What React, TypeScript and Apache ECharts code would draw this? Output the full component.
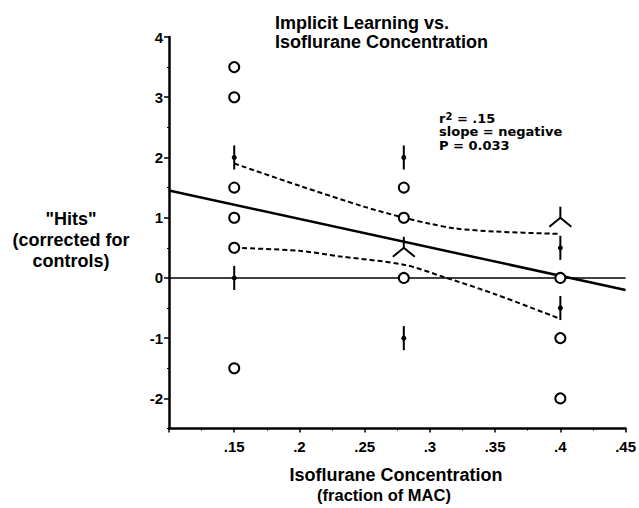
import React, { useEffect, useRef } from "react";
import * as echarts from "echarts";

// ---- data ----
const circlePoints: number[][] = [
  [0.15, 3.5], [0.15, 3], [0.15, 1.5], [0.15, 1], [0.15, 0.5], [0.15, -1.5],
  [0.28, 1.5], [0.28, 1], [0.28, 0],
  [0.4, 0], [0.4, -1], [0.4, -2],
];
const barPoints: number[][] = [
  [0.15, 2], [0.15, 0],
  [0.28, 2], [0.28, -1],
  [0.4, 0.5], [0.4, -0.5],
];
const lambdaPoints: number[][] = [
  [0.28, 0.5], [0.4, 1],
];
const regressionLine: number[][] = [[0.1, 1.45], [0.45, -0.2]];
const zeroLine: number[][] = [[0.1, 0], [0.45, 0]];
const upperBand: number[][] = [
  [0.15, 1.9], [0.2, 1.53], [0.25, 1.18], [0.28, 1.0], [0.3, 0.9],
  [0.32, 0.82], [0.35, 0.77], [0.4, 0.73],
];
const lowerBand: number[][] = [
  [0.15, 0.5], [0.2, 0.45], [0.23, 0.36], [0.28, 0.22], [0.31, 0.02],
  [0.35, -0.27], [0.4, -0.68],
];
const yTickLabels = [-2, -1, 0, 1, 2, 3, 4];
const yMinorTicks = [-2.5, -1.5, -0.5, 0.5, 1.5, 2.5, 3.5];
const titleLines = ["Implicit Learning vs.", "Isoflurane Concentration"];
const yTitleLines = ['"Hits"', "(corrected for", "controls)"];
const xTitleLines = ["Isoflurane Concentration", "(fraction of MAC)"];
const statLines = ["slope = negative", "P = 0.033"];

const FONT = "'Liberation Sans', Arial, Helvetica, sans-serif";
const WIDE = "'DejaVu Sans', Verdana, sans-serif";

function txt(text: string, x: number, y: number, size: number, align = "left", family = FONT) {
  return {
    type: "text",
    x,
    y,
    silent: true,
    style: {
      text,
      fill: "#000",
      fontSize: size,
      fontWeight: "bold",
      fontFamily: family,
      align,
      verticalAlign: "middle",
    },
  };
}

export default function App() {
  const ref = useRef<HTMLDivElement>(null);
  useEffect(() => {
    document.body.style.margin = "0";
    const chart = echarts.init(ref.current!, null, { renderer: "svg" });
    const fmtX = (v: number) => {
      const r = Math.round(v * 1000) / 1000;
      if (r <= 0.1) return "";
      return String(r).replace(/^0/, "");
    };
    const option: any = {
      animation: false,
      backgroundColor: "#fff",
      grid: { left: 169, right: 12, top: 37, bottom: 79.5 },
      xAxis: {
        type: "value",
        min: 0.1,
        max: 0.45,
        interval: 0.05,
        axisLine: { show: true, onZero: false, lineStyle: { color: "#000", width: 2.5 } },
        axisTick: { show: true, length: 4, lineStyle: { color: "#000", width: 1.5 } },
        minorTick: { show: true, splitNumber: 2, length: 2, lineStyle: { color: "#000", width: 1 } },
        splitLine: { show: false },
        axisLabel: {
          formatter: fmtX,
          color: "#000",
          fontSize: 15,
          fontWeight: "bold",
          fontFamily: FONT,
          margin: 10,
        },
      },
      yAxis: [
        {
          type: "value",
          min: -2.5,
          max: 4,
          axisLine: { show: true, onZero: false, lineStyle: { color: "#000", width: 2.5 } },
          axisTick: { show: true, length: 5, customValues: yTickLabels, lineStyle: { color: "#000", width: 1.5 } },
          splitLine: { show: false },
          axisLabel: {
            customValues: yTickLabels,
            formatter: (v: number) => String(v),
            color: "#000",
            fontSize: 15,
            fontWeight: "bold",
            fontFamily: FONT,
            margin: 6,
          },
        },
        {
          type: "value",
          min: -2.5,
          max: 4,
          position: "left",
          offset: 0,
          axisLine: { show: false, onZero: false },
          axisTick: { show: true, length: 2, customValues: yMinorTicks, lineStyle: { color: "#000", width: 1 } },
          splitLine: { show: false },
          axisLabel: { show: false },
        },
      ],
      series: [
        {
          type: "line",
          data: zeroLine,
          symbol: "none",
          lineStyle: { color: "#000", width: 1.5 },
          z: 1,
        },
        {
          type: "line",
          data: regressionLine,
          symbol: "none",
          lineStyle: { color: "#000", width: 2.5 },
          z: 2,
        },
        {
          type: "line",
          data: upperBand,
          symbol: "none",
          smooth: 0.3,
          lineStyle: { color: "#000", width: 2, type: [5, 3] },
          z: 2,
        },
        {
          type: "line",
          data: lowerBand,
          symbol: "none",
          smooth: 0.3,
          lineStyle: { color: "#000", width: 2, type: [5, 3] },
          z: 2,
        },
        {
          type: "custom",
          data: barPoints,
          encode: { x: 0, y: 1 },
          z: 3,
          renderItem: (params: any, api: any) => {
            const x = api.value(0);
            const y = api.value(1);
            const c = api.coord([x, y]);
            const t = api.coord([x, y + 0.2]);
            const b = api.coord([x, y - 0.2]);
            return {
              type: "group",
              children: [
                { type: "line", shape: { x1: c[0], y1: t[1], x2: c[0], y2: b[1] }, style: { stroke: "#000", lineWidth: 2 } },
                { type: "circle", shape: { cx: c[0], cy: c[1], r: 2.5 }, style: { fill: "#000" } },
              ],
            };
          },
        },
        {
          type: "custom",
          data: lambdaPoints,
          encode: { x: 0, y: 1 },
          z: 3,
          renderItem: (params: any, api: any) => {
            const c = api.coord([api.value(0), api.value(1)]);
            return {
              type: "group",
              children: [
                { type: "line", shape: { x1: c[0], y1: c[1] - 11, x2: c[0], y2: c[1] }, style: { stroke: "#000", lineWidth: 2 } },
                {
                  type: "polyline",
                  shape: { points: [[c[0] - 11, c[1] + 9], [c[0], c[1]], [c[0] + 11, c[1] + 9]] },
                  style: { stroke: "#000", lineWidth: 2, fill: "none" },
                },
              ],
            };
          },
        },
        {
          type: "scatter",
          data: circlePoints,
          symbol: "circle",
          symbolSize: 10,
          itemStyle: { color: "#fff", borderColor: "#000", borderWidth: 2, opacity: 1 },
          z: 4,
        },
      ],
      graphic: [
        txt(titleLines[0], 275, 23, 18),
        txt(titleLines[1], 275, 42, 18),
        {
          type: "text",
          x: 439,
          y: 118,
          silent: true,
          style: {
            text: "{a|r}{s|2}{a| = .15}",
            fill: "#000",
            fontSize: 13,
            fontWeight: "bold",
            fontFamily: WIDE,
            align: "left",
            verticalAlign: "middle",
            rich: {
              a: { fontSize: 13, fontWeight: "bold", fontFamily: WIDE, fill: "#000", verticalAlign: "bottom", lineHeight: 13 },
              s: { fontSize: 10, fontWeight: "bold", fontFamily: WIDE, fill: "#000", verticalAlign: "top", lineHeight: 13 },
            },
          },
        },
        txt(statLines[0], 439, 131.5, 13, "left", WIDE),
        txt(statLines[1], 439, 145, 13, "left", WIDE),
        txt(yTitleLines[0], 71, 219, 18, "center"),
        txt(yTitleLines[1], 71, 240, 18, "center"),
        txt(yTitleLines[2], 71, 261, 18, "center"),
        txt(xTitleLines[0], 396, 475, 18, "center"),
        txt(xTitleLines[1], 384, 495, 16.5, "center"),
      ],
    };
    chart.setOption(option);
    return () => chart.dispose();
  }, []);
  return <div ref={ref} style={{ width: 639, height: 508 }} />;
}
